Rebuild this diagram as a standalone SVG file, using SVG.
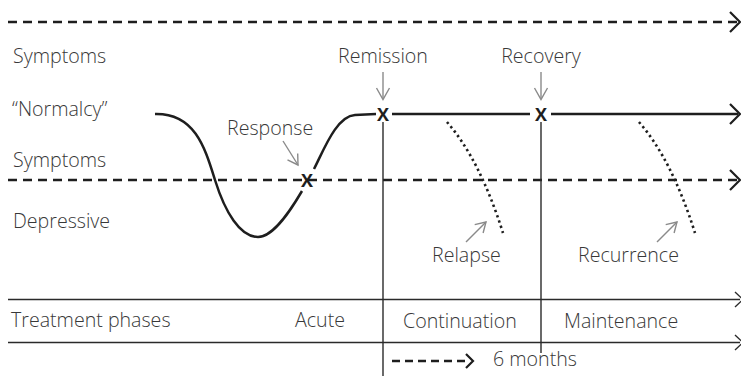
<svg xmlns="http://www.w3.org/2000/svg" width="741" height="376" viewBox="0 0 741 376">
  <style>
    text { font-family: "Open Sans", "Liberation Sans", sans-serif; font-size: 19.6px; font-weight: 300; fill: #383838; }
    .mark { font-size: 18px; font-weight: 700; fill: #1e1e1e; text-anchor: middle; }
    .dash { fill: none; stroke: #1e1e1e; stroke-width: 2.5; stroke-dasharray: 9 6; }
    .solid { fill: none; stroke: #1e1e1e; stroke-width: 2.5; }
    .thin { fill: none; stroke: #2a2a2a; stroke-width: 1.4; }
    .dots { fill: none; stroke: #1e1e1e; stroke-width: 2.6; stroke-dasharray: 2.4 3.2; }
    .head { fill: none; stroke: #1e1e1e; stroke-width: 2.2; }
    .ptr { fill: none; stroke: #8a8a8a; stroke-width: 1.4; }
  </style>
  <rect width="741" height="376" fill="#ffffff"/>

  <!-- axis labels on the left -->
  <g id="axis-labels">
    <text x="13" y="63">Symptoms</text>
    <text x="12" y="116">“Normalcy”</text>
    <text x="13" y="167">Symptoms</text>
    <text x="13" y="228">Depressive</text>
  </g>

  <!-- reference lines and phase boundaries -->
  <g id="connectors">
    <!-- upper symptom threshold -->
    <line class="dash" x1="8" y1="22" x2="737" y2="22"/>
    <polyline class="head" points="730,12 740,22 730,32"/>
    <!-- depressive symptom threshold -->
    <line class="dash" x1="8" y1="180" x2="737" y2="180"/>
    <polyline class="head" points="730,170 740,180 730,190"/>
    <!-- normalcy level after remission -->
    <line class="solid" x1="392" y1="114" x2="530" y2="114"/>
    <line class="solid" x1="551" y1="114" x2="738" y2="114"/>
    <polyline class="head" points="730,104 740,114 730,124"/>

    <!-- phase boundaries -->
    <line class="thin" x1="383" y1="122" x2="383" y2="376"/>
    <line class="thin" x1="541" y1="122" x2="541" y2="353"/>

    <!-- treatment phase band -->
    <line class="thin" x1="8" y1="299.5" x2="740" y2="299.5"/>
    <polyline class="thin" points="735,292 743,299.5 735,307"/>
    <line class="thin" x1="8" y1="342.5" x2="740" y2="342.5"/>
    <polyline class="thin" points="735,335 743,342.5 735,350"/>

    <!-- six month span -->
    <line class="dash" x1="392" y1="361" x2="470" y2="361" style="stroke-dasharray: 8 5"/>
    <polyline class="head" points="466,354 473,361 466,368"/>

    <!-- symptom course -->
    <path class="solid" d="M155,114 C195,113 205,148 215,180 C225,212 240,237 258,237 C274,237 292,208 302,191"/>
    <path class="solid" d="M314,169 C323,152 336,116 355,115 L376,114"/>

    <!-- relapse and recurrence courses -->
    <path class="dots" d="M447,122 Q480,160 503,233"/>
    <path class="dots" d="M639,122 Q672,160 695,233"/>

    <!-- label pointers -->
    <line class="ptr" x1="383" y1="72" x2="383" y2="99"/>
    <polyline class="ptr" points="376.5,88 383,99.5 389.5,88"/>
    <line class="ptr" x1="541" y1="72" x2="541" y2="99"/>
    <polyline class="ptr" points="534.5,88 541,99.5 547.5,88"/>
    <line class="ptr" x1="283" y1="141" x2="298" y2="165"/>
    <polyline class="ptr" points="297.7,153.4 298,165 287.5,159.8"/>
    <line class="ptr" x1="466" y1="242" x2="486" y2="222"/>
    <polyline class="ptr" points="474.7,224.6 486,222 483.1,233"/>
    <line class="ptr" x1="657" y1="242" x2="677" y2="222"/>
    <polyline class="ptr" points="665.7,224.6 677,222 674.1,233"/>
  </g>

  <!-- event markers -->
  <g id="response">
    <text class="mark" x="307" y="187">X</text>
    <text x="227" y="135">Response</text>
  </g>
  <g id="remission">
    <text class="mark" x="383" y="120.5">X</text>
    <text x="383" y="63" text-anchor="middle">Remission</text>
  </g>
  <g id="recovery">
    <text class="mark" x="541" y="120.5">X</text>
    <text x="541" y="63" text-anchor="middle">Recovery</text>
  </g>
  <g id="relapse">
    <text x="432" y="262">Relapse</text>
  </g>
  <g id="recurrence">
    <text x="578" y="262">Recurrence</text>
  </g>

  <!-- treatment phases -->
  <g id="phases">
    <text x="11" y="327">Treatment phases</text>
    <text x="295" y="327">Acute</text>
    <text x="403" y="328">Continuation</text>
    <text x="564" y="328">Maintenance</text>
  </g>
  <g id="six-months">
    <text x="493" y="366">6 months</text>
  </g>
</svg>
